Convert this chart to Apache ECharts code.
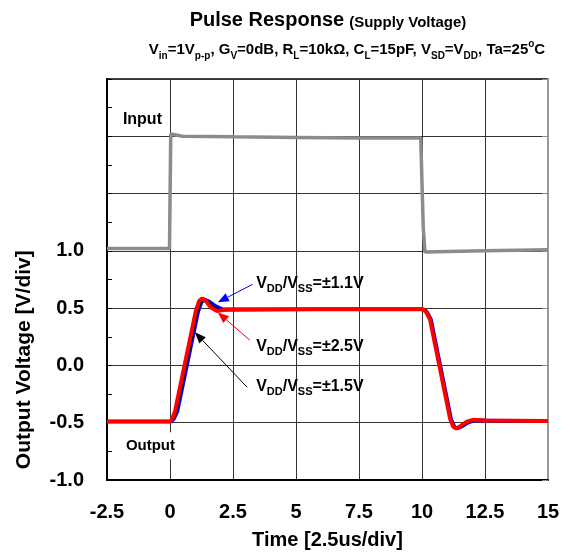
<!DOCTYPE html>
<html>
<head>
<meta charset="utf-8">
<script src="https://cdn.jsdelivr.net/npm/echarts@6/dist/echarts.min.js"></script>
<style>
  html, body { margin: 0; padding: 0; background: #fff; }
  #chart { width: 570px; height: 555px; }
</style>
</head>
<body>
<div id="chart"></div>
<script>
// time in units of the x axis, voltage in V
var inputT = [-2.5, -0.02, 0.03, 0.1, 0.5, 2.5, 5, 7.5, 9.95, 10.05, 10.12, 12.5, 15];
var inputV = [1.02, 1.02, 2.02, 2.03, 2.0, 1.995, 1.99, 1.985, 1.985, 1.2, 0.99, 1.0, 1.01];

var out11T = [-2.5, 0.05, 0.15, 0.3, 1.12, 1.25, 1.38, 1.55, 1.8, 2.1, 2.6, 6, 10.02, 10.12, 10.22, 10.36, 11.16, 11.29, 11.42, 11.57, 11.82, 12.1, 12.5, 15];
var out11V = [-0.49, -0.49, -0.47, -0.40, 0.47, 0.55, 0.575, 0.56, 0.52, 0.49, 0.49, 0.49, 0.49, 0.485, 0.46, 0.40, -0.47, -0.535, -0.55, -0.535, -0.50, -0.48, -0.48, -0.485];

var out15T = [-2.5, 0.02, 0.12, 0.25, 1.07, 1.2, 1.32, 1.48, 1.7, 1.95, 2.3, 6, 10.0, 10.1, 10.2, 10.34, 11.14, 11.26, 11.38, 11.54, 11.8, 12.05, 12.5, 15];
var out15V = [-0.49, -0.49, -0.47, -0.40, 0.47, 0.555, 0.58, 0.565, 0.51, 0.48, 0.485, 0.49, 0.49, 0.485, 0.46, 0.40, -0.47, -0.535, -0.55, -0.535, -0.495, -0.475, -0.48, -0.485];

var out25T = [-2.5, 0.0, 0.08, 0.2, 1.02, 1.15, 1.27, 1.42, 1.62, 1.87, 2.2, 6, 9.98, 10.08, 10.18, 10.32, 11.12, 11.24, 11.36, 11.52, 11.78, 12.02, 12.5, 15];
var out25V = [-0.49, -0.49, -0.47, -0.40, 0.47, 0.56, 0.585, 0.565, 0.505, 0.475, 0.485, 0.49, 0.49, 0.485, 0.46, 0.40, -0.47, -0.535, -0.55, -0.53, -0.49, -0.475, -0.48, -0.485];

var xTicks = [-2.5, 0, 2.5, 5, 7.5, 10, 12.5, 15];
var yLabeled = [-1.0, -0.5, 0.0, 0.5, 1.0];

function pairs(t, v) {
  return t.map(function (x, i) { return [x, v[i]]; });
}

var FONT = 'Liberation Sans, Arial, sans-serif';

var myChart = echarts.init(document.getElementById('chart'));
var option = {
  animation: false,
  textStyle: { fontFamily: FONT },
  title: [{
    text: '{a|Pulse Response} {b|(Supply Voltage)}',
    left: 323, top: 1, textAlign: 'center',
    textStyle: {
      rich: {
        a: { fontSize: 20, fontWeight: 'bold', color: '#000', fontFamily: FONT, lineHeight: 24, verticalAlign: 'bottom' },
        b: { fontSize: 15, fontWeight: 'bold', color: '#000', fontFamily: FONT, lineHeight: 22, verticalAlign: 'bottom' }
      }
    }
  }, {
    text: '{n|V}{s|in}{n|=1V}{s|p-p}{n|, G}{s|V}{n|=0dB, R}{s|L}{n|=10kΩ, C}{s|L}{n|=15pF, V}{s|SD}{n|=V}{s|DD}{n|, Ta=25}{u|o}{n|C}',
    left: 342, top: 34, textAlign: 'center',
    textStyle: {
      rich: {
        n: { fontSize: 15, fontWeight: 'bold', color: '#000', lineHeight: 22, verticalAlign: 'middle', fontFamily: FONT },
        s: { fontSize: 10, fontWeight: 'bold', color: '#000', lineHeight: 9, verticalAlign: 'bottom', fontFamily: FONT },
        u: { fontSize: 10, fontWeight: 'bold', color: '#000', lineHeight: 9, verticalAlign: 'top', fontFamily: FONT }
      }
    }
  }],
  grid: {
    left: 107, right: 22, top: 79, bottom: 75,
    show: true, borderColor: '#000', borderWidth: 1.5
  },
  xAxis: {
    type: 'value', min: -2.5, max: 15, interval: 2.5,
    name: 'Time [2.5us/div]', nameLocation: 'middle', nameGap: 50,
    nameTextStyle: { fontSize: 20, fontWeight: 'bold', color: '#000' },
    axisLine: { onZero: false, lineStyle: { color: '#000', width: 2 } },
    axisTick: { show: false },
    axisLabel: {
      margin: 22, fontSize: 20, fontWeight: 'bold', color: '#000',
      formatter: function (v) { return xTicks.indexOf(v) >= 0 ? String(v) : ''; }
    },
    splitLine: { show: true, lineStyle: { color: '#333', width: 1 } }
  },
  yAxis: [{
    type: 'value', min: -1.0, max: 2.5, interval: 0.5,
    axisLine: { show: true, onZero: false, lineStyle: { color: '#000', width: 2 } },
    axisTick: { show: true, inside: true, length: 5, lineStyle: { color: '#000' } },
    minorTick: { show: true, splitNumber: 2, length: 5, lineStyle: { color: '#000' } },
    axisLabel: {
      margin: 23, fontSize: 20, fontWeight: 'bold', color: '#000',
      formatter: function (v) {
        for (var i = 0; i < yLabeled.length; i++) {
          if (Math.abs(yLabeled[i] - v) < 1e-6) return v.toFixed(1);
        }
        return '';
      }
    },
    splitLine: { show: true, lineStyle: { color: '#333', width: 1 } }
  }, {
    type: 'value', min: -1.0, max: 2.5, interval: 0.5, position: 'right',
    axisLine: { show: true, onZero: false, lineStyle: { color: '#999', width: 2 } },
    axisTick: { show: true, inside: true, length: 6, lineStyle: { color: '#888' } },
    axisLabel: { show: false },
    splitLine: { show: false }
  }],
  series: [{
    name: 'Input', type: 'line', symbol: 'none',
    lineStyle: { color: '#8c8c8c', width: 3.5 }, z: 2,
    data: pairs(inputT, inputV)
  }, {
    name: '±1.1V', type: 'line', symbol: 'none',
    lineStyle: { color: '#0000ff', width: 3.5 }, z: 3,
    data: pairs(out11T, out11V)
  }, {
    name: '±1.5V', type: 'line', symbol: 'none',
    lineStyle: { color: '#000000', width: 3 }, z: 4,
    data: pairs(out15T, out15V)
  }, {
    name: '±2.5V', type: 'line', symbol: 'none',
    lineStyle: { color: '#ff0000', width: 4 }, z: 5,
    data: pairs(out25T, out25V)
  }]
};
myChart.setOption(option);

// annotations placed in data coordinates
var notes = [
  { text: '±1.1V', color: '#0000ff', at: [3.42, 0.715], from: [3.28, 0.708], to: [1.9, 0.551] },
  { text: '±2.5V', color: '#ff0000', at: [3.42, 0.165], from: [3.17, 0.22], to: [1.9, 0.463] },
  { text: '±1.5V', color: '#000000', at: [3.42, -0.185], from: [3.06, -0.19], to: [0.99, 0.289] }
];

function px(p) { return myChart.convertToPixel({ gridIndex: 0 }, p); }

function arrow(a, b, color) {
  var dx = b[0] - a[0], dy = b[1] - a[1];
  var len = Math.sqrt(dx * dx + dy * dy);
  var ux = dx / len, uy = dy / len;
  var hl = 11, hw = 4.5;
  var base = [b[0] - ux * hl, b[1] - uy * hl];
  return [{
    type: 'line', z: 20,
    shape: { x1: a[0], y1: a[1], x2: base[0], y2: base[1] },
    style: { stroke: color, lineWidth: 1 }
  }, {
    type: 'polygon', z: 20,
    shape: { points: [b, [base[0] - uy * hw, base[1] + ux * hw], [base[0] + uy * hw, base[1] - ux * hw]] },
    style: { fill: color }
  }];
}

var rich = {
  n: { fontSize: 16, fontWeight: 'bold', fill: '#000', lineHeight: 22, verticalAlign: 'middle', fontFamily: FONT },
  s: { fontSize: 11, fontWeight: 'bold', fill: '#000', lineHeight: 9, verticalAlign: 'bottom', fontFamily: FONT }
};

var elements = [];
notes.forEach(function (nt) {
  var p = px(nt.at);
  elements.push({
    type: 'text', z: 20, x: p[0], y: p[1],
    style: {
      text: '{n|V}{s|DD}{n|/V}{s|SS}{n|=' + nt.text + '}',
      rich: rich, verticalAlign: 'middle', align: 'left'
    }
  });
  elements = elements.concat(arrow(px(nt.from), px(nt.to), nt.color));
});

var pIn = px([-1.87, 2.15]);
elements.push({
  type: 'text', z: 20, x: pIn[0], y: pIn[1],
  style: { text: 'Input', fontSize: 16, fontWeight: 'bold', fill: '#000', fontFamily: FONT, verticalAlign: 'middle' }
});
var pOut = px([-1.83, -0.7]);
elements.push({
  type: 'text', z: 20, x: pOut[0], y: pOut[1],
  style: {
    text: 'Output', fontSize: 15, fontWeight: 'bold', fill: '#000', fontFamily: FONT,
    verticalAlign: 'middle', backgroundColor: '#fff', padding: [6, 2, 6, 2]
  }
});
var pName = px([-2.5, 0.05]);
elements.push({
  type: 'text', z: 20, x: 24, y: pName[1], rotation: Math.PI / 2,
  style: {
    text: 'Output Voltage [V/div]', fontSize: 21, fontWeight: 'bold', fill: '#000',
    fontFamily: FONT, align: 'center', verticalAlign: 'middle'
  }
});

myChart.setOption({ graphic: { elements: elements } });
</script>
</body>
</html>
